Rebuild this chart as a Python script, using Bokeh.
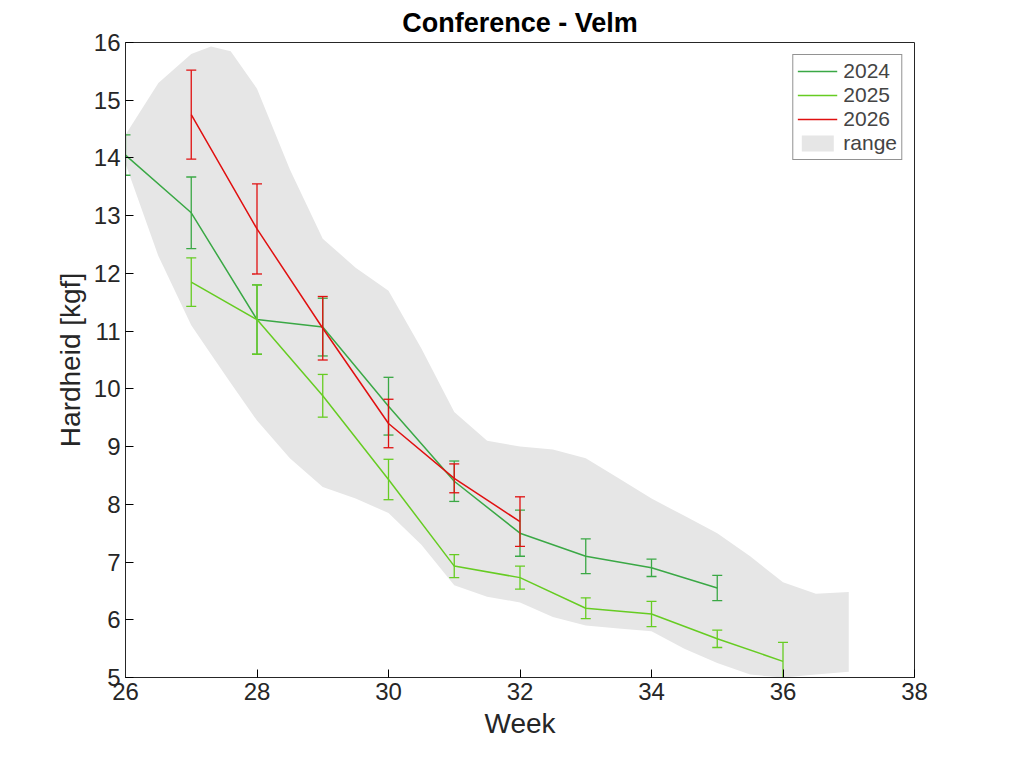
from bokeh.plotting import figure
from bokeh.models import ColumnDataSource, Legend, LegendItem, FixedTicker
from bokeh.embed import file_html
from bokeh.resources import INLINE

weeks24 = [26, 27, 28, 29, 30, 31, 32, 33, 34, 35]
vals24 = [14.05, 13.05, 11.2, 11.07, 9.7, 8.4, 7.5, 7.1, 6.9, 6.55]
err24 = [0.35, 0.62, 0.6, 0.5, 0.5, 0.35, 0.4, 0.3, 0.15, 0.22]
weeks25 = [27, 28, 29, 30, 31, 32, 33, 34, 35, 36]
vals25 = [11.85, 11.2, 9.88, 8.43, 6.93, 6.73, 6.2, 6.1, 5.67, 5.28]
err25 = [0.42, 0.6, 0.37, 0.35, 0.2, 0.2, 0.18, 0.22, 0.15, 0.33]
weeks26 = [27, 28, 29, 30, 31, 32]
vals26 = [14.75, 12.77, 11.05, 9.4, 8.45, 7.7]
err26 = [0.77, 0.78, 0.55, 0.42, 0.25, 0.43]
range_x = [26, 26.5, 27, 27.3, 27.6, 28, 28.5, 29, 29.5, 30, 30.5, 31, 31.5, 32, 32.5, 33, 33.5, 34, 34.5, 35, 35.5, 36, 36.5, 37]
range_hi = [14.4, 15.3, 15.8, 15.93, 15.85, 15.2, 13.8, 12.6, 12.1, 11.7, 10.7, 9.6, 9.1, 9.0, 8.95, 8.8, 8.45, 8.1, 7.8, 7.5, 7.1, 6.65, 6.45, 6.48]
range_lo = [13.9, 12.3, 11.1, 10.6, 10.1, 9.45, 8.8, 8.3, 8.1, 7.85, 7.3, 6.6, 6.4, 6.3, 6.05, 5.9, 5.85, 5.8, 5.5, 5.25, 5.05, 5.0, 5.05, 5.1]

FONT = "Liberation Sans"
p = figure(width=1008, height=752, x_range=(26, 38), y_range=(5, 16),
           output_backend="svg", toolbar_location=None,
           min_border_left=125, min_border_right=94, min_border_bottom=75, min_border_top=14)
p.title.text = "Conference - Velm"
p.title.align = "center"
p.title.text_font = FONT
p.title.text_font_size = "27px"
p.title.text_font_style = "bold"
p.title.text_color = "black"
p.grid.visible = False
p.outline_line_color = "#262626"

band = p.varea(x=range_x, y1=range_lo, y2=range_hi, fill_color="#e6e6e6")

items = []
for wk, v, e, col, name in [(weeks24, vals24, err24, "#3aa845", "2024"),
                            (weeks25, vals25, err25, "#66cc22", "2025"),
                            (weeks26, vals26, err26, "#e01010", "2026")]:
    src = ColumnDataSource(dict(x=wk, y=v, lo=[a - b for a, b in zip(v, e)], hi=[a + b for a, b in zip(v, e)]))
    r = p.line("x", "y", source=src, line_color=col, line_width=1.5)
    s = p.segment(x0="x", y0="lo", x1="x", y1="hi", source=src, line_color=col, line_width=1.3)
    c1 = p.scatter("x", "lo", source=src, marker="dash", size=10, line_color=col, line_width=1.3)
    c2 = p.scatter("x", "hi", source=src, marker="dash", size=10, line_color=col, line_width=1.3)
    items.append(LegendItem(label=name, renderers=[r]))
items.append(LegendItem(label="range", renderers=[band]))

leg = Legend(items=items, location="top_right", label_text_font=FONT, label_text_font_size="21px",
             border_line_color="#262626", spacing=0, padding=4, glyph_width=40, label_standoff=6,
             margin=12)
p.add_layout(leg)

p.xaxis.ticker = FixedTicker(ticks=[26, 28, 30, 32, 34, 36, 38])
p.yaxis.ticker = FixedTicker(ticks=list(range(5, 17)))
for ax in (p.xaxis, p.yaxis):
    ax.major_label_text_font = FONT
    ax.major_label_text_font_size = "24px"
    ax.major_label_text_color = "#262626"
    ax.axis_label_text_font = FONT
    ax.axis_label_text_font_size = "28px"
    ax.axis_label_text_font_style = "normal"
    ax.axis_label_text_color = "#262626"
    ax.major_tick_in = 8
    ax.major_tick_out = 0
    ax.minor_tick_line_color = None
    ax.axis_line_color = "#262626"
p.xaxis.axis_label = "Week"
p.yaxis.axis_label = "Hardheid [kgf]"

open("out.html", "w").write(file_html(p, INLINE))
